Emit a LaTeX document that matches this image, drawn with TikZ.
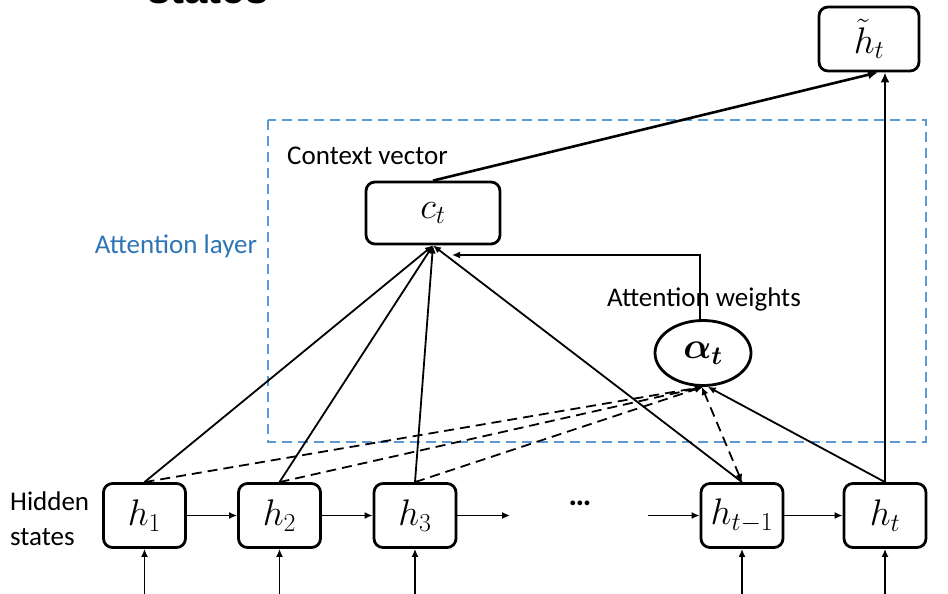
\RequirePackage{fix-cm}
\documentclass[tikz,border=0pt]{standalone}
\usepackage{amsmath}
\usepackage{fontspec}
\setmainfont{Carlito}
\newfontfamily\arialfam{Liberation Sans}
\usetikzlibrary{arrows.meta,shapes.geometric}
\definecolor{layerblue}{RGB}{91,155,213}
\definecolor{lblblue}{RGB}{46,117,182}
\begin{document}
\begin{tikzpicture}[x=1pt,y=-1pt,
  box/.style={draw, line width=2.8pt, rounded corners=9pt, minimum width=82pt, minimum height=64pt, inner sep=0pt, font=\fontsize{37}{40}\selectfont},
  lbl/.style={font=\fontsize{27}{35}\selectfont, inner sep=0pt},
  arr/.style={line width=1.8pt, -{Latex[length=8pt,width=7pt]}},
  thickarr/.style={line width=2.6pt, -{Latex[length=10pt,width=9pt]}},
  dsh/.style={arr, dash pattern=on 10pt off 6pt},
  dshtwo/.style={line width=1.8pt, dash pattern=on 10pt off 6pt, {Latex[length=8pt,width=7pt]}-{Latex[length=8pt,width=7pt]}},
  layer/.style={draw=layerblue, line width=2.2pt, dash pattern=on 10pt off 6pt},
]
\useasboundingbox (0,0) rectangle (948,594);

% clipped title at top
\node[anchor=base west, inner sep=0pt, font=\arialfam\bfseries\fontsize{42}{46}\selectfont] (title) at (147,4) {states};

% attention layer frame
\draw[layer] (268,120) rectangle (926,442);

% nodes
\node[box] (h1) at (144.5,515.5) {$h_1$};
\node[box] (h2) at (279.5,515.5) {$h_2$};
\node[box] (h3) at (415,515.5) {$h_3$};
\node[box] (hm) at (742,515.5) {$h_{t-1}$};
\node[box] (ht) at (885,515.5) {$h_t$};
\node[box, minimum width=134pt, minimum height=62pt] (ct) at (433,213) {$c_t$};
\node[box, minimum width=100pt, minimum height=64pt] (htil) at (869,39) {$\tilde{h}_t$};
\node[draw, ellipse, line width=2.8pt, minimum width=96pt, minimum height=65pt, inner sep=0pt, font=\fontsize{37}{40}\selectfont] (al) at (703,353) {$\boldsymbol{\alpha}_{\boldsymbol{t}}$};

% labels
\node[lbl, anchor=west] (cv) at (287,156) {Context vector};
\node[lbl, text=lblblue] (attl) at (176,246) {Attention layer};
\node[lbl] (aw) at (704,299) {Attention weights};
\node[lbl, align=left, anchor=west] (hs) at (10,519) {Hidden\\states};
\node[inner sep=0pt, font=\fontsize{32}{34}\selectfont\bfseries] (dots) at (580,503) {…};

% coordinates
\coordinate (h3out) at (510,515.5);
\coordinate (hmin) at (648,515.5);
\coordinate (ctin) at (452,255);
\foreach \n in {h1,h2,h3,hm,ht} {
  \coordinate (in\n) at (\n.south |- 0,600);
}

% recurrent arrows
\draw[arr] (h1.east) -- (h2.west);
\draw[arr] (h2.east) -- (h3.west);
\draw[arr] (h3.east) -- (h3out);
\draw[arr] (hmin) -- (hm.west);
\draw[arr] (hm.east) -- (ht.west);

% inputs
\foreach \n in {h1,h2,h3,hm,ht} {
  \draw[arr] (in\n) -- (\n.south);
}

% to context vector
\foreach \n in {h1,h2,h3,hm} {
  \draw[arr] (\n.north) -- (ct.south);
}

% to attention weights
\foreach \n in {h1,h2,h3} {
  \draw[dsh] (\n.north) -- (al.south);
}
\draw[dshtwo] (hm.north) -- (al.-92);
\draw[arr] (ht.north) -- (al.-82);

% attention weights to context
\draw[arr] (al.95) |- (ctin);

% to output
\draw[thickarr] (ct.north) -- ([xshift=9pt]htil.south);
\draw[thickarr] (ht.north) -- (ht.north |- htil.south);
\end{tikzpicture}
\end{document}
